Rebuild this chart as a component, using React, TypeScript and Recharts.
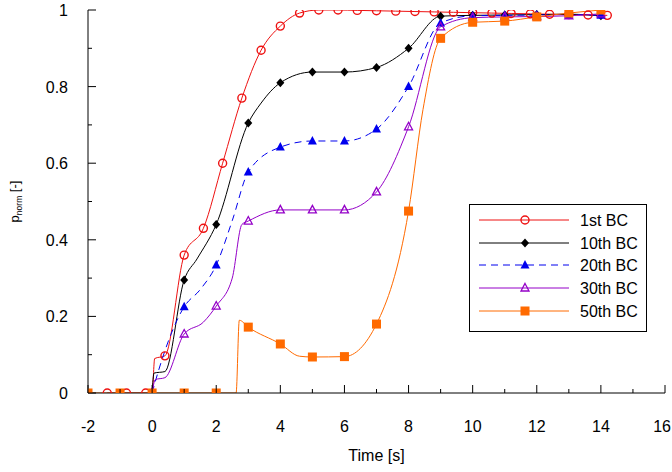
import { LineChart, Line, XAxis, YAxis, Label } from "recharts";

type Pt = { x: number; y: number };

const FONT = "'Liberation Sans', Arial, Helvetica, sans-serif";

const X_TICKS = [-2, -1, 0, 1, 2, 3, 4, 5, 6, 7, 8, 9, 10, 11, 12, 13, 14, 15, 16];
const X_LABELS = [-2, 0, 2, 4, 6, 8, 10, 12, 14, 16];
const Y_TICKS = [0, 0.1, 0.2, 0.3, 0.4, 0.5, 0.6, 0.7, 0.8, 0.9, 1];
const Y_LABELS = [0, 0.2, 0.4, 0.6, 0.8, 1];

const SERIES_NAMES = ["1st BC", "10th BC", "20th BC", "30th BC", "50th BC"];

// marker points
const BC1_MARKS: Pt[] = [
  { x: -1.4, y: 0 }, { x: -0.8, y: 0 }, { x: -0.2, y: 0 }, { x: 0.4, y: 0.097 },
  { x: 1.0, y: 0.36 }, { x: 1.6, y: 0.43 }, { x: 2.2, y: 0.6 }, { x: 2.8, y: 0.77 },
  { x: 3.4, y: 0.895 }, { x: 4.0, y: 0.958 }, { x: 4.6, y: 0.992 }, { x: 5.2, y: 1.0 },
  { x: 5.8, y: 1.0 }, { x: 6.4, y: 0.999 }, { x: 7.0, y: 0.998 }, { x: 7.6, y: 0.997 },
  { x: 8.2, y: 0.996 }, { x: 8.8, y: 0.995 }, { x: 9.4, y: 0.994 }, { x: 10.0, y: 0.993 },
  { x: 10.6, y: 0.992 }, { x: 11.2, y: 0.991 }, { x: 11.8, y: 0.99 }, { x: 12.4, y: 0.989 },
  { x: 13.0, y: 0.988 }, { x: 13.6, y: 0.987 }, { x: 14.2, y: 0.986 },
];
const BC10_MARKS: Pt[] = [
  { x: 0, y: 0 }, { x: 1, y: 0.295 }, { x: 2, y: 0.44 }, { x: 3, y: 0.705 },
  { x: 4, y: 0.81 }, { x: 5, y: 0.838 }, { x: 6, y: 0.838 }, { x: 7, y: 0.85 },
  { x: 8, y: 0.9 }, { x: 9, y: 0.984 }, { x: 10, y: 0.986 }, { x: 11, y: 0.987 },
  { x: 12, y: 0.988 }, { x: 13, y: 0.989 }, { x: 14, y: 0.985 },
];
const BC20_MARKS: Pt[] = [
  { x: 0, y: 0 }, { x: 1, y: 0.225 }, { x: 2, y: 0.334 }, { x: 3, y: 0.577 },
  { x: 4, y: 0.642 }, { x: 5, y: 0.658 }, { x: 6, y: 0.658 }, { x: 7, y: 0.689 },
  { x: 8, y: 0.8 }, { x: 9, y: 0.966 }, { x: 10, y: 0.985 }, { x: 11, y: 0.986 },
  { x: 12, y: 0.987 }, { x: 13, y: 0.988 }, { x: 14, y: 0.986 },
];
const BC30_MARKS: Pt[] = [
  { x: 0, y: 0 }, { x: 1, y: 0.154 }, { x: 2, y: 0.227 }, { x: 3, y: 0.449 },
  { x: 4, y: 0.478 }, { x: 5, y: 0.478 }, { x: 6, y: 0.478 }, { x: 7, y: 0.525 },
  { x: 8, y: 0.695 }, { x: 9, y: 0.956 }, { x: 10, y: 0.98 }, { x: 11, y: 0.982 },
  { x: 12, y: 0.983 }, { x: 13, y: 0.985 }, { x: 14, y: 0.99 },
];
const BC50_MARKS: Pt[] = [
  { x: -2, y: 0 }, { x: -1, y: 0 }, { x: 0, y: 0 }, { x: 1, y: 0 }, { x: 2, y: 0 },
  { x: 3, y: 0.172 }, { x: 4, y: 0.128 }, { x: 5, y: 0.094 }, { x: 6, y: 0.095 },
  { x: 7, y: 0.18 }, { x: 8, y: 0.475 }, { x: 9, y: 0.926 }, { x: 10, y: 0.968 },
  { x: 11, y: 0.971 }, { x: 12, y: 0.982 }, { x: 13, y: 0.992 }, { x: 14, y: 1.0 },
];

// extra curve points between markers (no marker drawn)
const BC1_EXTRA: Pt[] = [{ x: 0, y: 0 }, { x: 0.08, y: 0.09 }];
const BC10_EXTRA: Pt[] = [{ x: 0.06, y: 0.052 }, { x: 0.4, y: 0.056 }, { x: 1.4, y: 0.35 }, { x: 3.4, y: 0.757 }];
const BC20_EXTRA: Pt[] = [{ x: 0.1, y: 0.03 }, { x: 1.5, y: 0.27 }, { x: 2.5, y: 0.45 }];
const BC30_EXTRA: Pt[] = [{ x: 0.1, y: 0.035 }, { x: 0.4, y: 0.04 }, { x: 1.6, y: 0.185 }, { x: 2.5, y: 0.3 }, { x: 2.8, y: 0.44 }];
const BC50_EXTRA: Pt[] = [{ x: 2.62, y: 0 }, { x: 2.72, y: 0.19 }, { x: 4.6, y: 0.096 }, { x: 8.45, y: 0.74 }];

const curve = (a: Pt[], b: Pt[]) => [...a, ...b].sort((p, q) => p.x - q.x);

type Shape = "circle" | "diamond" | "triangle" | "triangleOpen" | "square";

const SERIES = [
  { name: SERIES_NAMES[0], marks: BC1_MARKS, extra: BC1_EXTRA, color: "#ee1111", shape: "circle" as Shape, dash: undefined },
  { name: SERIES_NAMES[1], marks: BC10_MARKS, extra: BC10_EXTRA, color: "#000000", shape: "diamond" as Shape, dash: undefined },
  { name: SERIES_NAMES[2], marks: BC20_MARKS, extra: BC20_EXTRA, color: "#0000ee", shape: "triangle" as Shape, dash: "7 5" },
  { name: SERIES_NAMES[3], marks: BC30_MARKS, extra: BC30_EXTRA, color: "#9400c8", shape: "triangleOpen" as Shape, dash: undefined },
  { name: SERIES_NAMES[4], marks: BC50_MARKS, extra: BC50_EXTRA, color: "#ff6a00", shape: "square" as Shape, dash: undefined },
];

function Marker({ cx, cy, shape, color }: { cx: number; cy: number; shape: Shape; color: string }) {
  if (cx == null || cy == null) return null;
  switch (shape) {
    case "circle":
      return <circle cx={cx} cy={cy} r={4} fill="none" stroke={color} strokeWidth={1.4} />;
    case "diamond":
      return <polygon points={`${cx},${cy - 4.5} ${cx + 4},${cy} ${cx},${cy + 4.5} ${cx - 4},${cy}`} fill={color} />;
    case "triangle":
      return <polygon points={`${cx},${cy - 5} ${cx + 4.5},${cy + 3.5} ${cx - 4.5},${cy + 3.5}`} fill={color} />;
    case "triangleOpen":
      return (
        <polygon
          points={`${cx},${cy - 4.5} ${cx + 4},${cy + 3} ${cx - 4},${cy + 3}`}
          fill="none"
          stroke={color}
          strokeWidth={1.3}
        />
      );
    default:
      return <rect x={cx - 4.5} y={cy - 4.5} width={9} height={9} fill={color} />;
  }
}

function XTick(props: any) {
  const { x, y, payload } = props;
  const v = payload.value;
  const major = X_LABELS.includes(v);
  // last label sits against the right edge, keep it inside the page
  const atEdge = x + 10 > 672;
  return (
    <g>
      <line x1={x} x2={x} y1={y} y2={y - (major ? 8 : 4)} stroke="#000" />
      {major && (
        <text
          x={atEdge ? 671 : x}
          y={y + 39}
          textAnchor={atEdge ? "end" : "middle"}
          fontSize={16}
          fill="#000"
          fontFamily={FONT}
        >
          {v}
        </text>
      )}
    </g>
  );
}

function YTick(props: any) {
  const { x, y, payload } = props;
  const v = payload.value;
  const major = Y_LABELS.some((l) => Math.abs(l - v) < 1e-9);
  return (
    <g>
      <line x1={x} x2={x + (major ? 8 : 4)} y1={y} y2={y} stroke="#000" />
      {major && (
        <text x={x - 20} y={y + 6} textAnchor="end" fontSize={16} fill="#000" fontFamily={FONT}>
          {v}
        </text>
      )}
    </g>
  );
}

function LegendBox() {
  const rows = [15, 38, 60, 83, 106];
  return (
    <div
      style={{
        position: "absolute",
        left: 469,
        top: 204,
        width: 178,
        height: 128,
        boxSizing: "border-box",
        border: "1px solid #000",
        background: "#fff",
      }}
    >
      <svg width={176} height={126} style={{ display: "block" }}>
        {SERIES.map((s, i) => (
          <g key={s.name}>
            <line x1={9} x2={99} y1={rows[i]} y2={rows[i]} stroke={s.color} strokeWidth={1} strokeDasharray={s.dash} />
            <Marker cx={55} cy={rows[i]} shape={s.shape} color={s.color} />
            <text x={110} y={rows[i] + 6} fontSize={16} fill="#000" fontFamily={FONT}>
              {s.name}
            </text>
          </g>
        ))}
      </svg>
    </div>
  );
}

export default function App() {
  return (
    <div style={{ position: "absolute", left: 0, top: 0, width: 672, height: 472, background: "#fff" }}>
      <LineChart width={672} height={472} margin={{ top: 10, right: 7, bottom: 0, left: 0 }} style={{ fontFamily: FONT }}>
        <XAxis
          type="number"
          dataKey="x"
          domain={[-2, 16]}
          ticks={X_TICKS}
          interval={0}
          tick={<XTick />}
          tickLine={false}
          tickSize={0}
          tickMargin={0}
          height={79}
          axisLine={{ stroke: "#000" }}
          allowDataOverflow
        >
          <Label
            content={(p: any) => {
              const vb = p.viewBox || { x: 88, y: 393, width: 577 };
              return (
                <text x={vb.x + vb.width / 2} y={vb.y + 68} textAnchor="middle" fontSize={16} fill="#000" fontFamily={FONT}>
                  Time [s]
                </text>
              );
            }}
          />
        </XAxis>
        <YAxis
          type="number"
          dataKey="y"
          domain={[0, 1]}
          ticks={Y_TICKS}
          interval={0}
          tick={<YTick />}
          tickLine={false}
          tickSize={0}
          tickMargin={0}
          width={88}
          axisLine={{ stroke: "#000" }}
          allowDataOverflow
        >
          <Label
            content={(p: any) => {
              const vb = p.viewBox || { x: 0, y: 10, width: 88, height: 383 };
              const cy = vb.y + vb.height / 2;
              return (
                <text
                  x={19}
                  y={cy}
                  transform={`rotate(-90, 19, ${cy})`}
                  textAnchor="middle"
                  fontSize={13}
                  fill="#000"
                  fontFamily={FONT}
                >
                  <tspan>p</tspan>
                  <tspan fontSize={8.5} dy={3}>norm</tspan>
                  <tspan dy={-3}> [-]</tspan>
                </text>
              );
            }}
          />
        </YAxis>
        {SERIES.map((s) => (
          <Line
            key={s.name + "-curve"}
            data={curve(s.marks, s.extra)}
            dataKey="y"
            type="monotone"
            stroke={s.color}
            strokeWidth={1}
            strokeDasharray={s.dash}
            dot={false}
            activeDot={false}
            legendType="none"
            isAnimationActive={false}
          />
        ))}
        {SERIES.map((s) => (
          <Line
            key={s.name + "-marks"}
            data={s.marks}
            dataKey="y"
            stroke="none"
            dot={(d: any) => <Marker key={d.index} cx={d.cx} cy={d.cy} shape={s.shape} color={s.color} />}
            activeDot={false}
            legendType="none"
            isAnimationActive={false}
          />
        ))}
      </LineChart>
      <LegendBox />
    </div>
  );
}
